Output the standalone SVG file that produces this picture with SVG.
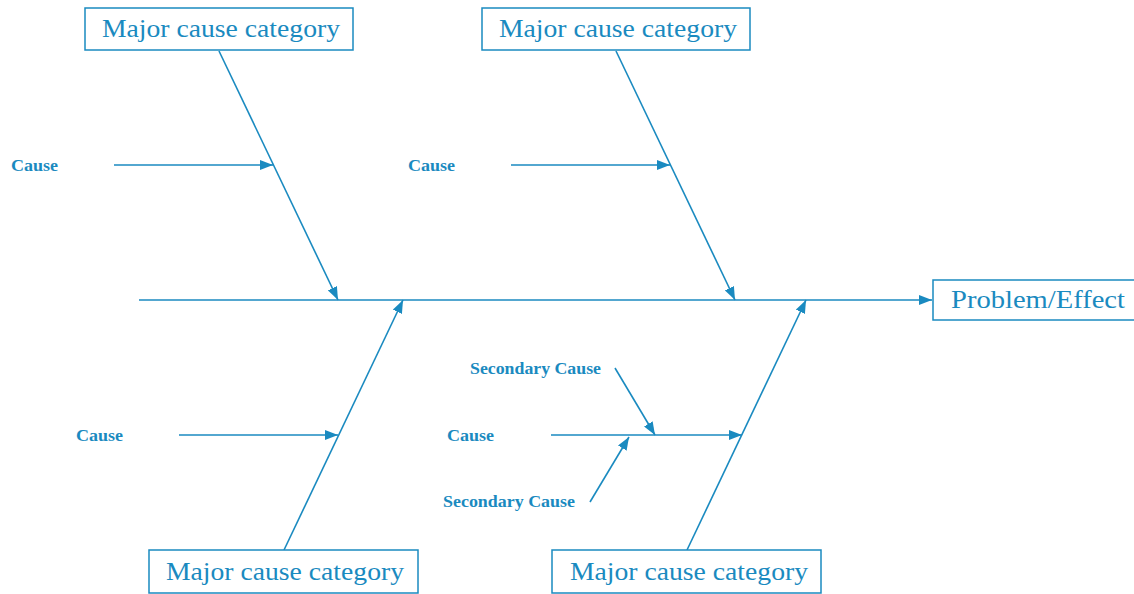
<svg xmlns="http://www.w3.org/2000/svg" width="1134" height="594" viewBox="0 0 1134 594">
  <style>
    .box { fill: #ffffff; stroke: #1a8ac0; stroke-width: 1.5; }
    .big { font-family: "Liberation Serif", serif; font-size: 26px; fill: #1a8ac0; }
    .small { font-family: "Liberation Serif", serif; font-size: 17px; font-weight: bold; fill: #1a8ac0; }
    .line { stroke: #1a8ac0; stroke-width: 1.6; fill: none; marker-end: url(#arrow); }
  </style>
  <defs>
    <marker id="arrow" viewBox="0 0 13 10" refX="13" refY="5" markerWidth="13" markerHeight="10" markerUnits="userSpaceOnUse" orient="auto">
      <path d="M0,0 L13,5 L0,10 Z" fill="#1a8ac0"/>
    </marker>
  </defs>
  <rect width="1134" height="594" fill="#ffffff"/>

  <g id="connectors">
    <!-- spine -->
    <line class="line" x1="139" y1="300" x2="932" y2="300"/>
    <!-- major bones -->
    <line class="line" x1="219" y1="51" x2="338" y2="300"/>
    <line class="line" x1="616" y1="51" x2="735" y2="300"/>
    <line class="line" x1="284" y1="550" x2="403" y2="300"/>
    <line class="line" x1="687" y1="550" x2="806" y2="300"/>
    <!-- causes -->
    <line class="line" x1="114" y1="165" x2="273" y2="165"/>
    <line class="line" x1="511" y1="165" x2="670" y2="165"/>
    <line class="line" x1="179" y1="435" x2="338" y2="435"/>
    <line class="line" x1="551" y1="435" x2="742" y2="435"/>
    <!-- secondary causes -->
    <line class="line" x1="615" y1="368" x2="655" y2="435"/>
    <line class="line" x1="590" y1="502" x2="629" y2="437"/>
  </g>

  <g id="cat-top-left">
    <rect class="box" x="85" y="8" width="268" height="42"/>
    <text class="big" x="102" y="37" textLength="238" lengthAdjust="spacingAndGlyphs">Major cause category</text>
  </g>
  <g id="cat-top-right">
    <rect class="box" x="482" y="8" width="268" height="42"/>
    <text class="big" x="499" y="37" textLength="238" lengthAdjust="spacingAndGlyphs">Major cause category</text>
  </g>
  <g id="cat-bottom-left">
    <rect class="box" x="149" y="550" width="269" height="43"/>
    <text class="big" x="166" y="580" textLength="238" lengthAdjust="spacingAndGlyphs">Major cause category</text>
  </g>
  <g id="cat-bottom-right">
    <rect class="box" x="552" y="550" width="269" height="43"/>
    <text class="big" x="570" y="580" textLength="238" lengthAdjust="spacingAndGlyphs">Major cause category</text>
  </g>
  <g id="effect">
    <rect class="box" x="933" y="280" width="205" height="40"/>
    <text class="big" x="951" y="308" textLength="174" lengthAdjust="spacingAndGlyphs">Problem/Effect</text>
  </g>

  <g id="labels">
    <text class="small" x="11" y="171" textLength="47" lengthAdjust="spacingAndGlyphs">Cause</text>
    <text class="small" x="408" y="171" textLength="47" lengthAdjust="spacingAndGlyphs">Cause</text>
    <text class="small" x="76" y="441" textLength="47" lengthAdjust="spacingAndGlyphs">Cause</text>
    <text class="small" x="447" y="441" textLength="47" lengthAdjust="spacingAndGlyphs">Cause</text>
    <text class="small" x="470" y="374" textLength="131" lengthAdjust="spacingAndGlyphs">Secondary Cause</text>
    <text class="small" x="443" y="507" textLength="132" lengthAdjust="spacingAndGlyphs">Secondary Cause</text>
  </g>
</svg>
